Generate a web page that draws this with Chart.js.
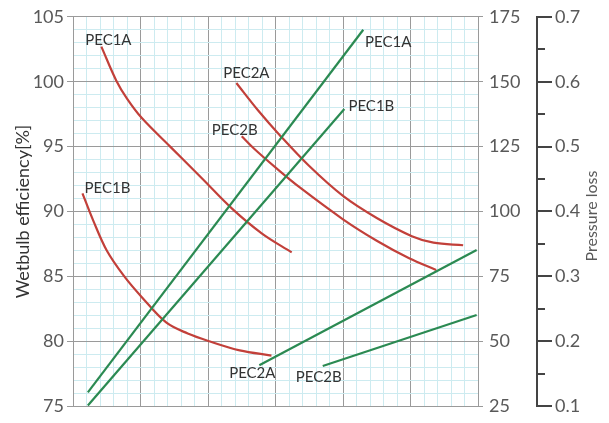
<!DOCTYPE html>
<html><head><meta charset="utf-8">
<script src="https://cdn.jsdelivr.net/npm/chart.js@4.4.1/dist/chart.umd.min.js"></script>
<style>html,body{margin:0;padding:0;background:#fff;}#wrap{width:609px;height:423px;}</style>
</head><body><div id="wrap"><canvas id="c" width="609" height="423"></canvas></div>
<script>
// ---- data ----
const seriesNames = ['PEC1A', 'PEC1B', 'PEC2A', 'PEC2B'];
const effTicks = [75, 80, 85, 90, 95, 100, 105];          // Wetbulb efficiency [%]
const paTicks = [25, 50, 75, 100, 125, 150, 175];          // pressure loss (Pa)
const inTicks = [0.1, 0.2, 0.3, 0.4, 0.5, 0.6, 0.7];       // pressure loss (inH2O)
const inMinorTicks = [0.15, 0.25, 0.35, 0.45, 0.55, 0.65];
const xRange = [0, 30];

// efficiency curves (left axis)
const pec1aEffX = [2.1, 3.2, 4.0, 5.1, 7.2, 9.6, 11.8, 14.0, 16.2];
const pec1aEffY = [102.7, 100.1, 98.7, 97.2, 95.0, 92.5, 90.2, 88.3, 86.85];
const pec1bEffX = [0.7, 1.5, 2.5, 3.8, 5.1, 6.9, 8.5, 10.1, 12.35, 14.7];
const pec1bEffY = [91.4, 89.3, 87.0, 85.0, 83.4, 81.45, 80.6, 80.0, 79.3, 78.9];
const pec2aEffX = [12.1, 13.7, 15.3, 17.5, 20.0, 22.5, 25.1, 26.7, 28.9];
const pec2aEffY = [99.9, 97.8, 95.9, 93.5, 91.2, 89.5, 88.1, 87.6, 87.4];
const pec2bEffX = [12.5, 13.4, 15.1, 16.8, 20.0, 22.5, 24.9, 26.9];
const pec2bEffY = [95.8, 94.85, 93.3, 91.85, 89.4, 87.75, 86.4, 85.5];

// pressure loss lines (right axis, Pa)
const pec1aPaX = [1.1, 21.5];
const pec1aPaY = [30.3, 170];
const pec1bPaX = [1.1, 20.1];
const pec1bPaY = [25.3, 139.5];
const pec2aPaX = [13.8, 29.9];
const pec2aPaY = [40.8, 85.2];
const pec2bPaX = [18.5, 29.9];
const pec2bPaY = [40.5, 60.1];

// ---- build ----
const RED = '#c2403a', GREEN = '#2b8a52';
const pts = (xs, ys) => xs.map((x, i) => ({ x, y: ys[i] }));
const TICKC = '#595959';
const FONT = 'Lato, "DejaVu Sans", sans-serif';

function effSet(name, xs, ys, dx, dy) {
  return { label: name, data: pts(xs, ys), yAxisID: 'y', borderColor: RED, borderWidth: 2.2,
    pointRadius: 0, tension: 0.35, fill: false,
    tag: { anchor: 'start', dx, dy } };
}
function paSet(name, xs, ys, anchor, dx, dy) {
  return { label: name, data: pts(xs, ys), yAxisID: 'y1', borderColor: GREEN, borderWidth: 2.2,
    pointRadius: 0, tension: 0, fill: false, tag: { anchor, dx, dy } };
}

const datasets = [
  paSet(seriesNames[0], pec1aPaX, pec1aPaY, 'end', 25, 12),
  paSet(seriesNames[1], pec1bPaX, pec1bPaY, 'end', 27, -3),
  paSet(seriesNames[2], pec2aPaX, pec2aPaY, 'start', -7, 8),
  paSet(seriesNames[3], pec2bPaX, pec2bPaY, 'start', -4, 11),
  effSet(seriesNames[0], pec1aEffX, pec1aEffY, 7, -6),
  effSet(seriesNames[1], pec1bEffX, pec1bEffY, 25, -5),
  effSet(seriesNames[2], pec2aEffX, pec2aEffY, 10, -10),
  effSet(seriesNames[3], pec2bEffX, pec2bEffY, -7, -6),
];

const MAJ = '#9a9a9a', MIN = '#cdebf0', CLEAR = 'rgba(0,0,0,0)';

const extras = {
  id: 'extras',
  afterDatasetsDraw(chart) {
    const ctx = chart.ctx;
    ctx.save();
    ctx.font = '15px ' + FONT;
    ctx.fillStyle = '#333';
    ctx.textAlign = 'center';
    ctx.textBaseline = 'middle';
    chart.data.datasets.forEach(ds => {
      const s = chart.scales[ds.yAxisID], xs = chart.scales.x;
      const p = ds.tag.anchor === 'start' ? ds.data[0] : ds.data[ds.data.length - 1];
      ctx.fillText(ds.label, xs.getPixelForValue(p.x) + ds.tag.dx, s.getPixelForValue(p.y) + ds.tag.dy);
    });
    ctx.restore();
  },
  afterDraw(chart) {
    const ctx = chart.ctx, s = chart.scales.y2;
    ctx.save();
    ctx.strokeStyle = '#444';
    ctx.lineWidth = 2;
    inMinorTicks.forEach(v => {
      const y = Math.round(s.getPixelForValue(v));
      ctx.beginPath(); ctx.moveTo(s.left, y); ctx.lineTo(s.left + 8, y); ctx.stroke();
    });
    ctx.font = '16px ' + FONT;
    ctx.fillStyle = TICKC;
    ctx.textAlign = 'center';
    ctx.textBaseline = 'middle';
    ctx.translate(592, 216);
    ctx.rotate(-Math.PI / 2);
    ctx.fillText('Pressure loss', 0, 0);
    ctx.restore();
  }
};

new Chart(document.getElementById('c'), {
  type: 'line',
  data: { datasets },
  plugins: [extras],
  options: {
    responsive: false, animation: false, devicePixelRatio: 1,
    layout: { padding: { top: 16, bottom: 13, left: 0, right: 0 } },
    plugins: { legend: { display: false }, tooltip: { enabled: false } },
    scales: {
      x: {
        type: 'linear', min: xRange[0], max: xRange[1],
        ticks: { display: false, stepSize: 1, autoSkip: false },
        grid: { drawTicks: false, color: c => (c.tick && c.tick.value % 5 === 0) ? MAJ : MIN, lineWidth: 1 },
        border: { display: false },
        afterFit: s => { s.height = 0; }
      },
      y: {
        position: 'left', min: effTicks[0], max: effTicks[effTicks.length - 1],
        ticks: { stepSize: 1, autoSkip: false, color: TICKC, font: { family: FONT, size: 18 }, padding: 3,
          callback: v => effTicks.includes(v) ? String(v) : '' },
        grid: { color: c => (c.tick && c.tick.value % 5 === 0) ? MAJ : MIN,
          tickColor: c => (c.tick && c.tick.value % 5 === 0) ? MAJ : CLEAR, tickLength: 6, lineWidth: 1 },
        border: { display: true, color: MAJ },
        title: { display: true, text: 'Wetbulb efficiency[%]', color: '#333',
          font: { family: FONT, size: 18 }, padding: { top: 12, bottom: 0 } },
        afterFit: s => { s.width = 73; }
      },
      y1: {
        position: 'right', weight: 0, min: paTicks[0], max: paTicks[paTicks.length - 1],
        ticks: { stepSize: 25, autoSkip: false, color: TICKC, font: { family: FONT, size: 18 }, padding: 6,
          callback: v => paTicks.includes(v) ? String(v) : '' },
        grid: { drawOnChartArea: false, tickColor: MAJ, tickLength: 5 },
        border: { display: true, color: MAJ },
        afterFit: s => { s.width = 59; }
      },
      y2: {
        position: 'right', weight: 1, min: inTicks[0], max: inTicks[inTicks.length - 1],
        ticks: { stepSize: 0.1, autoSkip: false, color: TICKC, font: { family: FONT, size: 18 }, padding: 3,
          callback: v => v.toFixed(1) },
        grid: { drawOnChartArea: false, tickColor: '#444', tickLength: 15, lineWidth: 2 },
        border: { display: true, color: '#444', width: 2 },
        afterFit: s => { s.width = 72; }
      }
    }
  }
});
</script></body></html>
